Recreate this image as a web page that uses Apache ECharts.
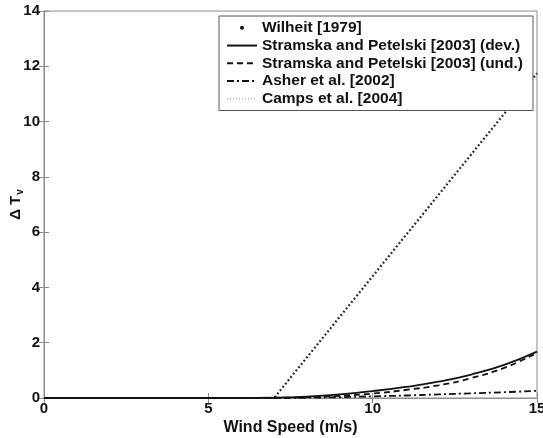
<!DOCTYPE html>
<html>
<head>
<meta charset="utf-8">
<script src="https://cdn.jsdelivr.net/npm/echarts@6/dist/echarts.min.js"></script>
<style>
  html, body { margin: 0; padding: 0; background: #fff; }
  #chart { width: 543px; height: 438px; }
</style>
</head>
<body>
<div id="chart"></div>
<script>
// Wind speed grid (m/s) shared by the whitecap models
const windSpeed = [0, 1, 2, 3, 4, 5, 6, 7, 8, 9, 10, 11, 12, 13, 14, 15];

// Brightness temperature increase ΔTv (K) for each model
const stramskaDev = [0, 0, 0, 0, 0, 0, 0, 0.01, 0.05, 0.13, 0.25, 0.40, 0.59, 0.85, 1.20, 1.68];
const stramskaUnd = [0, 0, 0, 0, 0, 0, 0, 0.005, 0.03, 0.08, 0.16, 0.29, 0.46, 0.72, 1.09, 1.63];
const asher       = [0, 0, 0, 0, 0, 0, 0, 0, 0.01, 0.03, 0.06, 0.09, 0.13, 0.17, 0.21, 0.26];
const camps       = [0, 0, 0, 0, 0, 0, 0, 0, 0, 0, 0, 0, 0, 0, 0, 0];

// Wilheit: zero below the 7 m/s threshold, linear above it
const wilheitSpeed = [0, 7, 15];
const wilheitValue = [0, 0, 11.75];

const seriesNames = [
  'Wilheit [1979]',
  'Stramska and Petelski [2003] (dev.)',
  'Stramska and Petelski [2003] (und.)',
  'Asher et al. [2002]',
  'Camps et al. [2004]'
];

// Axis ticks
const xTicks = { min: 0, max: 15, interval: 5 };
const yTicks = { min: 0, max: 14, interval: 2 };

const pair = (xs, ys) => xs.map((x, i) => [x, ys[i]]);

const font = '"Liberation Sans", Arial, sans-serif';
const axisGray = '#8c8c8c';

const chart = echarts.init(document.getElementById('chart'), null, { renderer: 'canvas' });

const lineSeries = (name, data, style, z) => ({
  name, type: 'line', data, symbol: 'none', smooth: true,
  itemStyle: { color: style.color },
  lineStyle: style, z: z || 2, animation: false, silent: true
});

// Line-only legend entries: hide the marker drawn in the middle of the line
const hiddenMarker = { opacity: 0 };

chart.setOption({
  backgroundColor: '#fff',
  animation: false,
  grid: {
    left: 44, right: 6, top: 11, bottom: 40,
    outerBoundsMode: 'none', containLabel: false,
    show: true, borderColor: axisGray, borderWidth: 1
  },
  legend: {
    left: 219, top: 16,
    orient: 'vertical',
    backgroundColor: '#fff',
    borderColor: '#555', borderWidth: 1,
    padding: [3, 10, 3, 7],
    itemWidth: 30, itemHeight: 4, itemGap: 0,
    textStyle: { fontFamily: font, fontWeight: 'bold', fontSize: 15.5, color: '#111', lineHeight: 17.7 },
    data: [
      { name: seriesNames[0], icon: 'circle', itemStyle: { color: '#111' } },
      { name: seriesNames[1], itemStyle: hiddenMarker },
      { name: seriesNames[2], itemStyle: hiddenMarker },
      { name: seriesNames[3], itemStyle: hiddenMarker },
      { name: seriesNames[4], itemStyle: hiddenMarker }
    ]
  },
  xAxis: [{
    type: 'value', min: xTicks.min, max: xTicks.max, interval: xTicks.interval,
    name: 'Wind Speed (m/s)', nameLocation: 'middle', nameGap: 22, nameMoveOverlap: false,
    nameTextStyle: { fontFamily: font, fontWeight: 'bold', fontSize: 16, color: '#111' },
    axisLine: { lineStyle: { color: axisGray } },
    axisTick: { inside: true, length: 5, lineStyle: { color: axisGray } },
    axisLabel: { fontFamily: font, fontWeight: 'bold', fontSize: 15, color: '#111', margin: 3 },
    splitLine: { show: false }
  }, {
    type: 'value', position: 'top', min: xTicks.min, max: xTicks.max, interval: xTicks.interval,
    axisLine: { lineStyle: { color: axisGray } },
    axisTick: { inside: true, length: 5, lineStyle: { color: axisGray } },
    axisLabel: { show: false }, splitLine: { show: false }
  }],
  yAxis: [{
    type: 'value', min: yTicks.min, max: yTicks.max, interval: yTicks.interval,
    name: 'Δ T{sub|v}', nameLocation: 'middle', nameGap: 19, nameRotate: 90, nameMoveOverlap: false,
    nameTextStyle: {
      fontFamily: font, fontWeight: 'bold', fontSize: 15, color: '#111',
      rich: { sub: { fontFamily: font, fontWeight: 'bold', fontSize: 10, color: '#111', padding: [9, 0, 0, 1] } }
    },
    axisLine: { lineStyle: { color: axisGray } },
    axisTick: { inside: true, length: 5, lineStyle: { color: axisGray } },
    axisLabel: { fontFamily: font, fontWeight: 'bold', fontSize: 15, color: '#111', margin: 4 },
    splitLine: { show: false }
  }, {
    type: 'value', position: 'right', min: yTicks.min, max: yTicks.max, interval: yTicks.interval,
    axisLine: { lineStyle: { color: axisGray } },
    axisTick: { inside: true, length: 5, lineStyle: { color: axisGray } },
    axisLabel: { show: false }, splitLine: { show: false }
  }],
  series: [
    {
      name: seriesNames[0], type: 'line', data: pair(wilheitSpeed, wilheitValue),
      symbol: 'none', z: 3, animation: false, silent: true,
      itemStyle: { color: '#222' },
      lineStyle: { color: '#222', width: 2.2, type: [1.8, 2.4], cap: 'butt' }
    },
    lineSeries(seriesNames[1], pair(windSpeed, stramskaDev), { color: '#111', width: 1.8, type: 'solid' }, 4),
    lineSeries(seriesNames[2], pair(windSpeed, stramskaUnd), { color: '#111', width: 1.8, type: [6, 4] }, 4),
    lineSeries(seriesNames[3], pair(windSpeed, asher), { color: '#111', width: 1.8, type: [7, 3, 2, 3] }, 4),
    lineSeries(seriesNames[4], pair(windSpeed, camps), { color: '#bdbdbd', width: 1.2, type: [1, 2] }, 1)
  ]
});
</script>
</body>
</html>
